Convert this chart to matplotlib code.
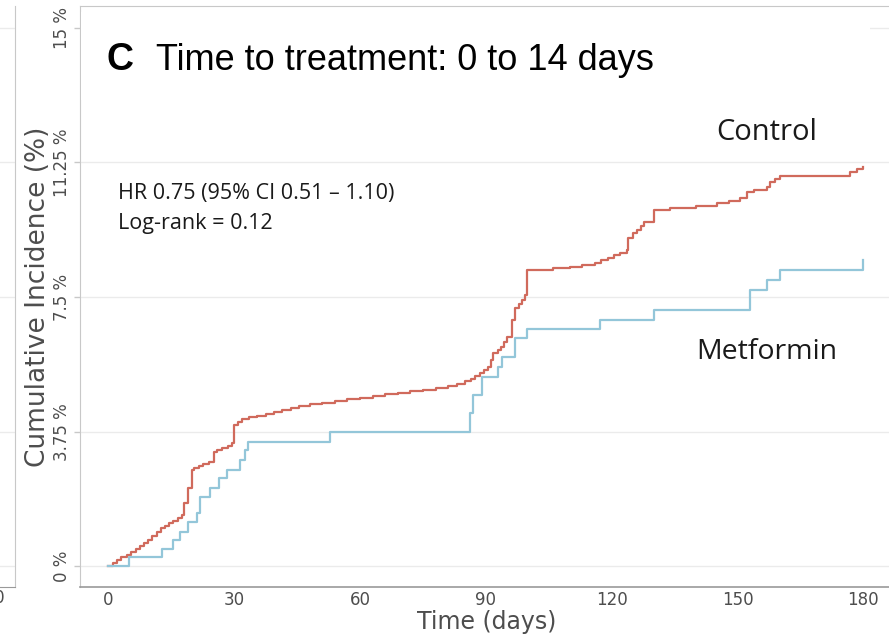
import matplotlib
matplotlib.use("Agg")
import matplotlib.pyplot as plt
from matplotlib.patches import Rectangle

# ---------------- data ----------------
ctrl_t = [0, 1, 2, 3, 4.5, 5.5, 6.5, 7.5, 8.5, 9.5, 10.5, 11.5, 12.5, 13.5, 14.5,
          15.5, 16.5, 17.5, 18.0, 19.0, 19.9, 20.5, 21.5, 22.5, 24.0, 25.2, 26.0,
          27.0, 28.5, 29.5, 30.0, 30.8, 31.8, 33.5, 35.5, 37.5, 39.5, 41.5, 43.5,
          45.5, 48, 51, 54, 57, 60, 63, 66, 69, 72, 75, 78, 81, 83, 85, 86.5, 87.5,
          88.5, 89.5, 90.5, 91.2, 91.8, 92.8, 93.5, 94.3, 95.0, 96.2, 97.0, 98.0,
          98.6, 99.4, 99.9, 106, 110, 113, 116, 117.5, 119, 120.5, 122, 123.6,
          124.0, 125.0, 126.0, 127.0, 127.8, 130.1, 134, 140, 145, 148, 150.6,
          152.2, 154, 157, 157.8, 159, 160.2, 176.8, 178.5, 180]
ctrl_v = [0.00, 0.09, 0.17, 0.25, 0.32, 0.40, 0.48, 0.56, 0.64, 0.74, 0.84, 0.96,
          1.06, 1.12, 1.20, 1.27, 1.34, 1.43, 1.77, 2.17, 2.68, 2.74, 2.80, 2.84,
          2.91, 3.19, 3.24, 3.29, 3.36, 3.43, 3.94, 4.02, 4.10, 4.15, 4.20, 4.25,
          4.30, 4.36, 4.42, 4.47, 4.51, 4.56, 4.60, 4.65, 4.70, 4.75, 4.80, 4.84,
          4.88, 4.92, 4.97, 5.03, 5.09, 5.16, 5.22, 5.30, 5.38, 5.46, 5.56, 5.75,
          5.93, 6.03, 6.12, 6.25, 6.40, 6.86, 7.19, 7.30, 7.42, 7.56, 8.25, 8.30,
          8.35, 8.40, 8.44, 8.52, 8.60, 8.66, 8.73, 8.81, 9.16, 9.28, 9.37, 9.48,
          9.60, 9.92, 9.97, 10.04, 10.11, 10.18, 10.25, 10.43, 10.48, 10.57, 10.71,
          10.80, 10.87, 10.99, 11.06, 11.13]

metf_t = [0, 5.0, 12.7, 15.5, 17.1, 19.1, 21.1, 21.9, 24.2, 26.5, 28.3, 31.4,
          32.6, 33.2, 52.9, 86.1, 87.0, 89.0, 93.0, 93.8, 97.0, 99.9, 117.1,
          130.0, 153.0, 157.0, 160.2, 180.0]
metf_v = [0.00, 0.26, 0.49, 0.73, 0.96, 1.24, 1.48, 1.94, 2.17, 2.45, 2.68, 2.96,
          3.24, 3.47, 3.73, 4.26, 4.77, 5.28, 5.56, 5.84, 6.35, 6.60, 6.86, 7.14,
          7.70, 7.97, 8.25, 8.53]

x_ticks = [0, 30, 60, 90, 120, 150, 180]
y_ticks = [0, 3.75, 7.5, 11.25, 15]
y_tick_labels = ["0 %", "3.75 %", "7.5 %", "11.25 %", "15 %"]

# ---------------- figure ----------------
W, H = 889, 638
fig = plt.figure(figsize=(W / 100, H / 100), dpi=100)
fig.patch.set_facecolor("white")

def px_rect(x0, y0, x1, y1):
    """pixel box (top-left origin) -> figure fraction [l, b, w, h]"""
    return [x0 / W, 1 - y1 / H, (x1 - x0) / W, (y1 - y0) / H]

XL = (-6.87, 186.1)
YL = (-0.568, 15.61)
grid_c = "#EBEBEB"
tick_c = "#4D4D4D"

# fragment of neighbouring panel on the far left
ax0 = fig.add_axes(px_rect(-800, 6, 15, 586.7))
ax0.set_xlim(XL)
ax0.set_ylim(YL)
for y in y_ticks:
    ax0.axhline(y, color=grid_c, lw=1, zorder=0)
for s in ["left", "top"]:
    ax0.spines[s].set_visible(False)
ax0.spines["right"].set_color("#C8C8C8")
ax0.spines["bottom"].set_color("#999999")
ax0.set_yticks([])
ax0.set_xticks([180])
ax0.set_xticklabels(["180"])
ax0.tick_params(axis="x", length=0, pad=2, labelsize=12, labelcolor=tick_c)

# main panel
ax = fig.add_axes(px_rect(79.5, 6, 889, 586.7))
ax.set_xlim(XL)
ax.set_ylim(YL)
for y in y_ticks:
    ax.axhline(y, color=grid_c, lw=1, zorder=0)

ax.step(ctrl_t, ctrl_v, where="post", color="#D06A5C", lw=1.6, zorder=3)
ax.step(metf_t, metf_v, where="post", color="#93C6D9", lw=1.6, zorder=3)

ax.spines["right"].set_visible(False)
ax.spines["top"].set_color("#C8C8C8")
ax.spines["left"].set_color("#C8C8C8")
ax.spines["bottom"].set_color("#999999")
ax.spines["bottom"].set_linewidth(1.2)

ax.set_xticks(x_ticks)
ax.set_xticklabels([str(t) for t in x_ticks])
ax.set_yticks(y_ticks)
ax.set_yticklabels(y_tick_labels, rotation=90, va="center")
ax.tick_params(axis="x", length=0, pad=3, labelsize=12, labelcolor=tick_c)
ax.tick_params(axis="y", length=4, width=1, color="#C8C8C8", pad=2,
               labelsize=12, labelcolor=tick_c)

ax.set_xlabel("Time (days)", fontsize=17, color="#4D4D4D", va="center")
ax.xaxis.set_label_coords((487 - 79.5) / (889 - 79.5), -(621.7 - 586.7) / 580.7)
ax.set_ylabel("Cumulative Incidence (%)", fontsize=19, color="#4D4D4D", va="center")
ax.yaxis.set_label_coords(-(79.5 - 38) / (889 - 79.5), 0.5)

# white box of the pasted title (hides the top grid line)
fig.patches.append(Rectangle((81 / W, 1 - 100 / H), (870 - 81) / W, 88 / H,
                             transform=fig.transFigure, facecolor="white",
                             edgecolor="none", zorder=5))
fig.text(107 / W, 1 - 60 / H, "C", fontsize=27, fontweight="bold",
         family="Liberation Sans", va="center", ha="left", zorder=6)
fig.text(156 / W, 1 - 61 / H, "Time to treatment: 0 to 14 days", fontsize=26,
         family="Liberation Sans", va="center", ha="left", zorder=6)

fig.text(118 / W, 1 - 193 / H, "HR 0.75 (95% CI 0.51 \u2013 1.10)", fontsize=15.5,
         family="Open Sans", va="center", ha="left", color="#1A1A1A", zorder=6)
fig.text(118 / W, 1 - 223 / H, "Log-rank = 0.12", fontsize=15.5,
         family="Open Sans", va="center", ha="left", color="#1A1A1A", zorder=6)

fig.text(767 / W, 1 - 133 / H, "Control", fontsize=21, family="Open Sans",
         va="center", ha="center", color="#1A1A1A", zorder=6)
fig.text(767 / W, 1 - 352 / H, "Metformin", fontsize=20.5, family="Open Sans",
         va="center", ha="center", color="#1A1A1A", zorder=6)

fig.savefig("out.png", dpi=100, facecolor="white")
